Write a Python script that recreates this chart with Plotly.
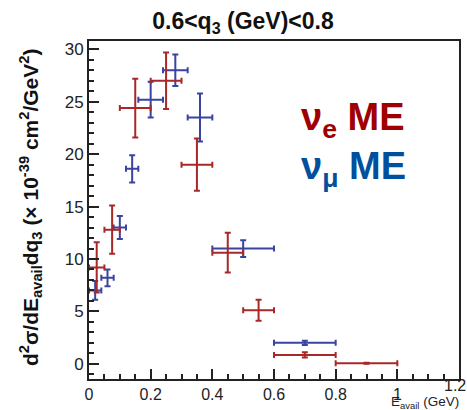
import plotly.graph_objects as go

# nu_e measurement: bin edges (GeV), cross section and vertical uncertainty
nue_lo = [0.0, 0.05, 0.10, 0.20, 0.30, 0.40, 0.50, 0.60, 0.80]
nue_hi = [0.05, 0.10, 0.20, 0.30, 0.40, 0.50, 0.60, 0.80, 1.00]
nue_xs = [9.2, 12.8, 24.4, 27.0, 19.0, 10.6, 5.1, 0.85, 0.05]
nue_err = [2.4, 2.3, 2.8, 2.7, 2.5, 1.9, 1.0, 0.25, 0.05]

# nu_mu measurement
num_lo = [0.0, 0.04, 0.08, 0.12, 0.16, 0.24, 0.32, 0.40, 0.60]
num_hi = [0.04, 0.08, 0.12, 0.16, 0.24, 0.32, 0.40, 0.60, 0.80]
num_xs = [7.0, 8.2, 13.0, 18.6, 25.2, 28.0, 23.5, 11.0, 2.0]
num_err = [0.9, 0.8, 1.1, 1.3, 1.7, 1.5, 2.3, 0.8, 0.2]

x_ticks = [0, 0.2, 0.4, 0.6, 0.8, 1.0, 1.2]
x_tick_text = ["0", "0.2", "0.4", "0.6", "0.8", "1", ""]
x_last_label = "1.2"
y_ticks = [0, 5, 10, 15, 20, 25, 30]

RED = "#a82828"
BLUE = "#3a44a0"
FONT = "Liberation Sans, Arial, sans-serif"


def binned(lo, hi, val, err, color, name):
    centers = [(a + b) / 2 for a, b in zip(lo, hi)]
    halfw = [(b - a) / 2 for a, b in zip(lo, hi)]
    return go.Scatter(
        x=centers, y=val, mode="markers", name=name,
        marker=dict(size=1, color=color, opacity=0),
        error_x=dict(type="data", array=halfw, visible=True, color=color,
                     thickness=2, width=3),
        error_y=dict(type="data", array=err, visible=True, color=color,
                     thickness=2, width=3),
        showlegend=False,
    )


fig = go.Figure()
fig.add_trace(binned(num_lo, num_hi, num_xs, num_err, BLUE, "nu_mu ME"))
fig.add_trace(binned(nue_lo, nue_hi, nue_xs, nue_err, RED, "nu_e ME"))

axis_common = dict(
    showline=True, linecolor="#222222", linewidth=2, mirror=True,
    ticks="inside", tickcolor="#222222", tickwidth=1.5, ticklen=10,
    showgrid=False, zeroline=False, automargin=False,
)

fig.update_layout(
    template="none",
    width=467, height=410,
    margin=dict(l=89, r=8, t=41, b=31),
    plot_bgcolor="white", paper_bgcolor="white",
    xaxis=dict(range=[0, 1.2], tickvals=x_ticks, ticktext=x_tick_text,
               ticklabelstandoff=0,
               minor=dict(dtick=0.05, ticks="inside", ticklen=5,
                          tickcolor="#222222", tickwidth=1.5),
               tickfont=dict(family=FONT, size=16, color="#222222"),
               **axis_common),
    yaxis=dict(range=[-1.45, 30.8], tickvals=y_ticks,
               minor=dict(dtick=1, ticks="inside", ticklen=5,
                          tickcolor="#222222", tickwidth=1.5),
               tickfont=dict(family=FONT, size=17, color="#222222"),
               **axis_common),
    title=dict(
        text="<b>0.6<q<sub>3</sub> (GeV)<0.8</b>",
        x=243 / 467, y=1 - 21 / 410, xanchor="center", yanchor="middle",
        font=dict(family=FONT, size=23, color="#111111"),
    ),
)

# last x tick label, kept inside the page edge
fig.add_annotation(
    xref="paper", yref="paper", x=(467 - 89) / 370, y=(379 - 385) / 338,
    xanchor="right", yanchor="middle", showarrow=False, borderpad=0,
    text=x_last_label,
    font=dict(family=FONT, size=16, color="#222222"),
)

# y-axis title
fig.add_annotation(
    xref="paper", yref="paper", x=(30 - 89) / 370, y=(379 - 208) / 338,
    xanchor="center", yanchor="middle", textangle=-90, showarrow=False,
    text="<b>d<sup>2</sup>σ/dE<sub>avail</sub>dq<sub>3</sub> (× 10<sup>-39</sup> cm<sup>2</sup>/GeV<sup>2</sup>)</b>",
    font=dict(family=FONT, size=21, color="#111111"),
)

# x-axis title
fig.add_annotation(
    xref="paper", yref="paper", x=(460 - 89) / 370, y=(379 - 402) / 338,
    xanchor="right", yanchor="middle", showarrow=False, borderpad=0,
    text="E<sub>avail</sub> (GeV)",
    font=dict(family=FONT, size=13.5, color="#222222"),
)

# series labels
fig.add_annotation(
    xref="paper", yref="paper", x=(299 - 89) / 370, y=(379 - 120) / 338,
    xanchor="left", yanchor="middle", showarrow=False,
    text="<b>ν<sub>e</sub> ME</b>",
    font=dict(family=FONT, size=38, color="#a00000"),
)
fig.add_annotation(
    xref="paper", yref="paper", x=(299 - 89) / 370, y=(379 - 169) / 338,
    xanchor="left", yanchor="middle", showarrow=False,
    text="<b>ν<sub>μ</sub> ME</b>",
    font=dict(family=FONT, size=38, color="#00509e"),
)

fig.write_html("out.html")
